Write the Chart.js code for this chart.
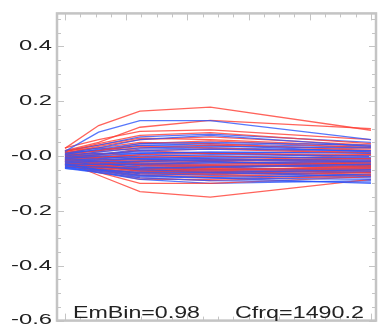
<!DOCTYPE html>
<html>
<head>
<meta charset="utf-8">
<script src="https://cdn.jsdelivr.net/npm/chart.js@4.4.1/dist/chart.umd.min.js"></script>
<style>
html,body{margin:0;padding:0;background:#fff;}
#wrap{width:380px;height:334px;}
</style>
</head>
<body>
<div id="wrap"><canvas id="c"></canvas></div>
<script>
// x positions of the vertices (axis units, one unit per minor tick)
const xValues = [0, 2.2, 4.9, 9.5, 20];
// y axis tick labels
const yTickValues = [-0.6, -0.4, -0.2, 0, 0.2, 0.4];
const annotationLeft = "EmBin=0.98";
const annotationRight = "Cfrq=1490.2";

const redSeries = [
  [0.028, 0.111, 0.164, 0.178, 0.094],
  [0.020, 0.050, 0.105, 0.130, 0.100],
  [0.015, 0.045, 0.075, 0.085, 0.045],
  [0.010, 0.035, 0.060, 0.070, 0.040],
  [0.005, 0.020, 0.045, 0.055, 0.030],
  [0.000, 0.015, 0.030, 0.040, 0.025],
  [0.012, 0.030, 0.050, 0.045, 0.020],
  [-0.005, 0.005, 0.020, 0.025, 0.010],
  [-0.010, -0.005, 0.005, 0.010, 0.000],
  [0.000, 0.000, -0.005, 0.000, -0.010],
  [-0.015, -0.015, -0.020, -0.015, -0.020],
  [-0.020, -0.025, -0.030, -0.035, -0.025],
  [-0.010, -0.020, -0.035, -0.040, -0.030],
  [-0.025, -0.035, -0.045, -0.050, -0.040],
  [-0.020, -0.040, -0.055, -0.060, -0.045],
  [-0.030, -0.045, -0.060, -0.065, -0.050],
  [-0.015, -0.030, -0.050, -0.055, -0.035],
  [-0.035, -0.050, -0.070, -0.075, -0.060],
  [-0.020, -0.050, -0.080, -0.090, -0.070],
  [-0.020, -0.070, -0.130, -0.150, -0.085],
  [-0.030, -0.060, -0.100, -0.100, -0.075],
  [0.005, 0.010, 0.000, -0.010, -0.015],
  [-0.005, -0.010, -0.025, -0.030, -0.020],
  [0.020, 0.030, 0.020, 0.010, 0.005],
  [-0.010, -0.030, -0.040, -0.045, -0.050],
  [0.000, -0.010, -0.015, -0.020, -0.030],
  [-0.040, -0.040, -0.045, -0.040, -0.035],
  [0.008, 0.020, 0.035, 0.030, 0.012],
  [-0.025, -0.040, -0.050, -0.045, -0.020],
  [-0.012, -0.020, -0.030, -0.020, 0.005],
  [0.030, 0.060, 0.090, 0.095, 0.060],
  [-0.018, -0.035, -0.055, -0.058, -0.055],
  [-0.008, -0.025, -0.045, -0.050, -0.042],
  [-0.028, -0.048, -0.065, -0.068, -0.058],
  [0.003, 0.000, -0.012, -0.018, -0.008],
  [0.016, 0.040, 0.065, 0.060, 0.035],
  [-0.032, -0.055, -0.085, -0.085, -0.065]
];

const blueSeries = [
  [0.017, 0.087, 0.129, 0.129, 0.060],
  [0.010, 0.030, 0.060, 0.075, 0.035],
  [0.005, 0.025, 0.045, 0.050, 0.040],
  [0.000, 0.015, 0.030, 0.035, 0.030],
  [-0.005, 0.005, 0.020, 0.025, 0.020],
  [-0.010, 0.000, 0.010, 0.015, 0.010],
  [-0.015, -0.010, 0.000, 0.005, 0.000],
  [-0.020, -0.015, -0.010, -0.005, -0.005],
  [-0.025, -0.020, -0.020, -0.015, -0.015],
  [-0.030, -0.030, -0.030, -0.025, -0.020],
  [-0.035, -0.040, -0.045, -0.040, -0.030],
  [-0.040, -0.050, -0.060, -0.060, -0.050],
  [-0.045, -0.055, -0.075, -0.080, -0.085],
  [-0.040, -0.060, -0.080, -0.090, -0.095],
  [-0.030, -0.050, -0.070, -0.080, -0.100],
  [-0.020, -0.035, -0.050, -0.060, -0.075],
  [-0.010, -0.020, -0.035, -0.040, -0.055],
  [0.000, 0.000, -0.005, -0.010, -0.020],
  [0.005, 0.010, 0.015, 0.010, 0.000],
  [-0.005, -0.005, -0.010, -0.020, -0.035],
  [-0.015, -0.025, -0.035, -0.035, -0.040],
  [-0.020, -0.030, -0.040, -0.050, -0.060],
  [-0.025, -0.035, -0.050, -0.055, -0.070],
  [-0.035, -0.045, -0.065, -0.070, -0.080],
  [0.012, 0.020, 0.040, 0.040, 0.015],
  [-0.010, -0.005, 0.005, 0.000, -0.010],
  [-0.018, -0.020, -0.025, -0.025, -0.030],
  [-0.028, -0.040, -0.055, -0.050, -0.045],
  [-0.045, -0.060, -0.085, -0.100, -0.090],
  [0.020, 0.040, 0.070, 0.080, 0.050],
  [-0.008, 0.005, 0.025, 0.030, 0.020],
  [-0.033, -0.030, -0.020, -0.015, -0.010],
  [-0.022, -0.028, -0.030, -0.032, -0.038],
  [-0.012, -0.012, -0.015, -0.012, -0.025],
  [-0.038, -0.052, -0.072, -0.078, -0.068],
  [0.002, 0.008, 0.010, 0.012, 0.015],
  [-0.026, -0.045, -0.062, -0.065, -0.060],
  [0.008, 0.022, 0.038, 0.045, 0.032]
];

const RED = 'rgba(255,60,50,0.8)';
const BLUE = 'rgba(45,85,250,0.8)';

function toPoints(vals){ return vals.map((v,i)=>({x:xValues[i], y:v})); }

const datasets = [];
const n = Math.max(redSeries.length, blueSeries.length);
for (let i=0;i<n;i++){
  if (i < blueSeries.length) datasets.push({data: toPoints(blueSeries[i]), borderColor: BLUE, borderWidth: 1.3, pointRadius: 0, fill:false, tension:0});
  if (i < redSeries.length) datasets.push({data: toPoints(redSeries[i]), borderColor: RED, borderWidth: 1.3, pointRadius: 0, fill:false, tension:0});
}

const FRAME = '#c4c4c4';
const LABEL_STRETCH = 1.7;

const framePlugin = {
  id: 'frame',
  beforeDraw(chart){
    const s = chart.scales.y;
    if (!s._stretched){
      const orig = s.drawLabels.bind(s);
      s.drawLabels = function(area){
        const ctx = this.ctx;
        const ax = this.right - 5;
        ctx.save();
        ctx.translate(ax,0); ctx.scale(LABEL_STRETCH,1); ctx.translate(-ax,0);
        orig(area);
        ctx.restore();
      };
      s._stretched = true;
    }
  },
  afterDraw(chart){
    const ctx = chart.ctx;
    const a = chart.chartArea;
    const xs = chart.scales.x, ys = chart.scales.y;
    ctx.save();
    ctx.strokeStyle = FRAME;
    ctx.lineWidth = 1;
    for (let k=0;k<=20;k++){
      const px = Math.round(xs.getPixelForValue(k))+0.5;
      const len = (k%4===0)?7:4;
      ctx.beginPath();
      ctx.moveTo(px, a.top); ctx.lineTo(px, a.top+len);
      ctx.moveTo(px, a.bottom); ctx.lineTo(px, a.bottom-len);
      ctx.stroke();
    }
    for (let k=-12;k<=10;k++){
      const v = k*0.05;
      const py = Math.round(ys.getPixelForValue(v))+0.5;
      const len = (k%4===0)?7:4;
      ctx.beginPath();
      ctx.moveTo(a.left, py); ctx.lineTo(a.left+len, py);
      ctx.moveTo(a.right, py); ctx.lineTo(a.right-len, py);
      ctx.stroke();
    }
    ctx.lineWidth = 2.5;
    ctx.strokeRect(a.left, a.top, a.right-a.left, a.bottom-a.top);
    ctx.fillStyle = '#222';
    ctx.font = '16px "Liberation Sans", Arial, sans-serif';
    ctx.textBaseline = 'alphabetic';
    const drawStretched = (txt, x, y, w) => {
      const m = ctx.measureText(txt).width;
      ctx.save();
      ctx.translate(x,y); ctx.scale(w/m,1);
      ctx.textAlign='left';
      ctx.fillText(txt,0,0);
      ctx.restore();
    };
    drawStretched(annotationLeft, 73, 318, 127);
    drawStretched(annotationRight, 235, 318, 129);
    ctx.restore();
  }
};

new Chart(document.getElementById('c'), {
  type: 'line',
  data: { datasets },
  options: {
    responsive: true,
    maintainAspectRatio: false,
    animation: false,
    layout: { padding: { left: 0, right: 4, top: 5, bottom: 6 } },
    plugins: { legend: {display:false}, tooltip: {enabled:false} },
    scales: {
      x: { type: 'linear', display: false, min: -0.52, max: 20.33 },
      y: {
        type: 'linear', min: -0.6, max: 0.52,
        afterFit(s){ s.width = 57; },
        afterBuildTicks(s){ s.ticks = yTickValues.map(v=>({value:v})); },
        grid: { display: false, drawTicks: false, tickLength: 0 },
        border: { display: false },
        ticks: {
          padding: 5,
          color: '#222',
          font: { family: '"Liberation Sans", Arial, sans-serif', size: 14 },
          callback: (v) => Math.abs(v) < 1e-9 ? '-0.0' : Number(v).toFixed(1)
        }
      }
    }
  },
  plugins: [framePlugin]
});
</script>
</body>
</html>
